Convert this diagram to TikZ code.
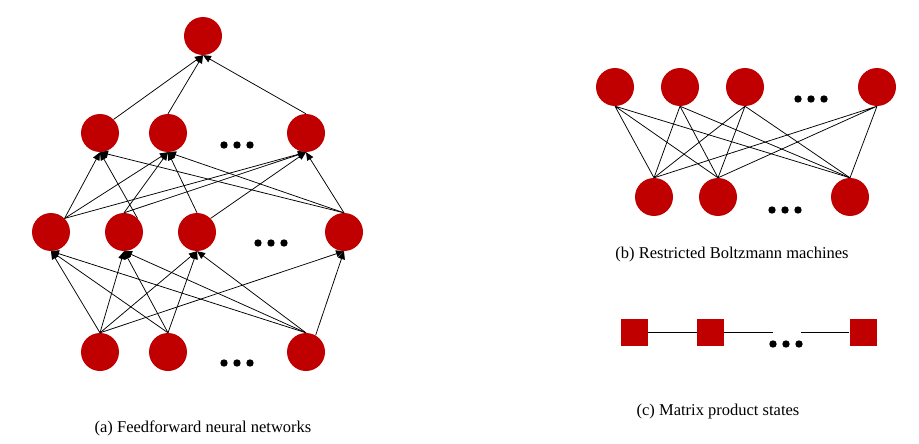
\documentclass[tikz,border=0pt]{standalone}
\usepackage{fontspec}
\setmainfont{Liberation Serif}
\usetikzlibrary{arrows.meta}
\definecolor{unitred}{RGB}{192,0,0}
\tikzset{
    neuron/.style={circle,fill=unitred,minimum size=38pt,inner sep=0},
    tensor/.style={rectangle,fill=unitred,minimum size=27pt,inner sep=0},
    link/.style={line width=0.75pt},
    feed/.style={line width=0.75pt,-{Triangle[length=8pt,width=7pt]}},
    caption/.style={font=\fontsize{16.5}{20}\selectfont},
    ellip/.pic={\foreach \i in {-13,0,13} \fill (\i,0) circle (3.7);}
}
\begin{document}
\begin{tikzpicture}[x=1pt,y=-1pt]
    \useasboundingbox (0,0) rectangle (919,444);
    % (a) feedforward
    \node[neuron] (t) at (203,36) {};
    \node[neuron] (b1) at (100,133) {};
    \node[neuron] (b2) at (168,133) {};
    \node[neuron] (b3) at (306,133) {};
    \node[neuron] (a1) at (51,232) {};
    \node[neuron] (a2) at (124,232) {};
    \node[neuron] (a3) at (197,232) {};
    \node[neuron] (a4) at (344,232) {};
    \node[neuron] (c1) at (100,352) {};
    \node[neuron] (c2) at (168,352) {};
    \node[neuron] (c3) at (306,352) {};
    \pic at (237,145) {ellip};
    \pic at (271,243) {ellip};
    \pic at (237,363) {ellip};
    \draw[feed] (b1.north east) -- (t.south);
    \draw[feed] (b2.north) -- (t.south);
    \draw[feed] (b3.north) -- (t.south);
    \draw[feed] (a1.north east) -- (b1.south);
    \draw[feed] (a1.north east) -- (b2.south);
    \draw[feed] (a1.north east) -- (b3.south);
    \draw[feed] (a2.north east) -- (b1.south);
    \draw[feed] (a2.north) -- (b2.south);
    \draw[feed] (a2.north) -- (b3.south);
    \draw[feed] (a3.north) -- (b2.south);
    \draw[feed] (a3.north east) -- (b3.south);
    \draw[feed] (a4.north) -- (b1.south);
    \draw[feed] (a4.north) -- (b2.south);
    \draw[feed] (a4.north) -- (b3.south);
    \draw[feed] (c1.north) -- (a1.south);
    \draw[feed] (c1.north) -- (a2.south);
    \draw[feed] (c1.north) -- (a3.south);
    \draw[feed] (c1.north) -- (a4.south);
    \draw[feed] (c2.north) -- (a1.south);
    \draw[feed] (c2.north) -- (a2.south);
    \draw[feed] (c2.north) -- (a3.south);
    \draw[feed] (c3.north) -- (a1.south);
    \draw[feed] (c3.north) -- (a2.south);
    \draw[feed] (c3.north) -- (a3.south);
    \draw[feed] (c3.60) -- (a4.south);
    \node[caption] (capa) at (203,428) {(a) Feedforward neural networks};
    % (b) RBM
    \node[neuron] (v1) at (615,87) {};
    \node[neuron] (v2) at (680,87) {};
    \node[neuron] (v3) at (745,87) {};
    \node[neuron] (v4) at (877,87) {};
    \node[neuron] (h1) at (654,197) {};
    \node[neuron] (h2) at (718,197) {};
    \node[neuron] (h3) at (850,197) {};
    \pic at (811,99) {ellip};
    \pic at (785,210) {ellip};
    \draw[link] (v1.south) -- (h1.north) (v1.south) -- (h2.north) (v1.south) -- (h3.north);
    \draw[link] (v2.south) -- (h1.north) (v2.south) -- (h2.north) (v2.south) -- (h3.north);
    \draw[link] (v3.south) -- (h1.north) (v3.south) -- (h2.north) (v3.south) -- (h3.north);
    \draw[link] (v4.south) -- (h1.north) (v4.south) -- (h2.north) (v4.south) -- (h3.north);
    \node[caption] (capb) at (732,255) {(b) Restricted Boltzmann machines};
    % (c) MPS
    \node[tensor] (s1) at (634.5,332) {};
    \node[tensor] (s2) at (710.5,332) {};
    \node[tensor] (s3) at (863,332) {};
    \coordinate (gl) at (773,332);
    \coordinate (gr) at (801,332);
    \pic at (786,344) {ellip};
    \draw[link] (s1) -- (s2);
    \draw[link] (s2) -- (gl);
    \draw[link] (gr) -- (s3);
    \node[caption] (capc) at (718,412) {(c) Matrix product states};
\end{tikzpicture}
\end{document}
